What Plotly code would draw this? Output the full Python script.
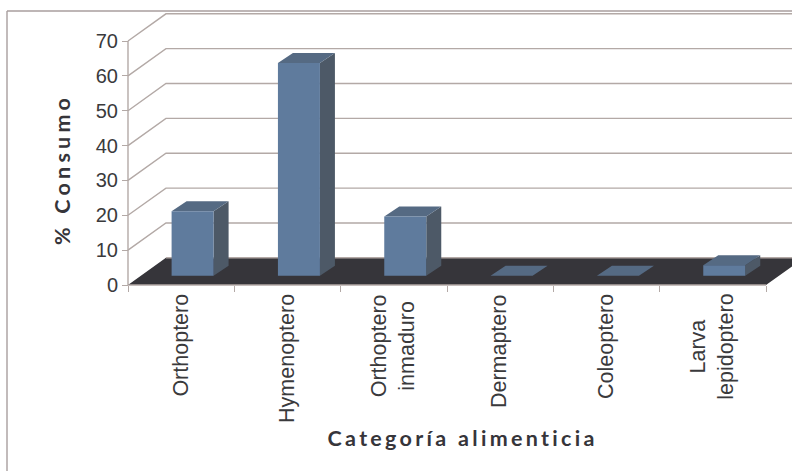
import plotly.graph_objects as go

# Diet composition by food category
categories = ["Orthoptero", "Hymenoptero", "Orthoptero<br>inmaduro", "Dermaptero", "Coleoptero", "Larva<br>lepidoptero"]
consumo = [18.5, 61, 17, 0, 0, 3]
y_ticks = [0, 10, 20, 30, 40, 50, 60, 70]

FRONT = "#5F7B9D"
SIDE = "#4D5967"
TOP = "#556A83"
FLOOR = "#36353A"
GRID = "#B3A9A6"
FRAME = "#A89E9E"
TEXT = "#3A3A3C"

WIDTH, HEIGHT = 792, 471
# Pixel placement of the axis origin and size of one axis unit
ORIGIN_X, ORIGIN_Y = 128, 285
X_UNIT, Y_UNIT = 638 / 6, 244 / 70

# Oblique projection offsets, in axis units
WALL_DX, WALL_DY = 0.357, 7.8
BAR_DX, BAR_DY = 0.141, 2.87
BAR_X0, BAR_W = 0.41, 0.395
BAR_BASE = 2.66
GRID_END = 6.6


def polygons(quads):
    xs, ys = [], []
    for quad in quads:
        xs += [p[0] for p in quad] + [quad[0][0], None]
        ys += [p[1] for p in quad] + [quad[0][1], None]
    return xs, ys


def face(quads, color):
    xs, ys = polygons(quads)
    return go.Scatter(x=xs, y=ys, mode="lines", fill="toself", fillcolor=color,
                      line=dict(width=0, color=color), hoverinfo="skip", showlegend=False)


def rule(xs, ys):
    return go.Scatter(x=xs, y=ys, mode="lines", line=dict(color=GRID, width=1.4),
                      hoverinfo="skip", showlegend=False)


fig = go.Figure()

# Side and back wall gridlines, plus the value axis line
grid_x, grid_y = [], []
for v in y_ticks[1:]:
    grid_x += [0, WALL_DX, GRID_END, None]
    grid_y += [v, v + WALL_DY, v + WALL_DY, None]
fig.add_trace(rule(grid_x, grid_y))
fig.add_trace(rule([0, 0], [0, y_ticks[-1]]))

# Dark floor with its edges
fig.add_trace(face([[(0, 0), (6, 0), (6 + WALL_DX, WALL_DY), (GRID_END, WALL_DY), (WALL_DX, WALL_DY)]], FLOOR))
fig.add_trace(rule([WALL_DX, GRID_END], [WALL_DY, WALL_DY]))
fig.add_trace(rule([0, 6], [0, 0]))

# Bars: side, top and front faces
sides, tops, fronts = [], [], []
for i, v in enumerate(consumo):
    x0 = i + BAR_X0
    x1 = x0 + BAR_W
    b = BAR_BASE
    t = BAR_BASE + v
    if v > 0:
        fronts.append([(x0, b), (x1, b), (x1, t), (x0, t)])
        sides.append([(x1, b), (x1 + BAR_DX, b + BAR_DY), (x1 + BAR_DX, t + BAR_DY), (x1, t)])
    tops.append([(x0, t), (x1, t), (x1 + BAR_DX, t + BAR_DY), (x0 + BAR_DX, t + BAR_DY)])
fig.add_trace(face(sides, SIDE))
fig.add_trace(face(tops, TOP))
fig.add_trace(face(fronts, FRONT))

# Category labels and axis titles
annotations = [
    dict(x=i + 0.49, xref="x", y=0, yref="y", yshift=-7, yanchor="top", xanchor="center",
         text=c, textangle=-90, showarrow=False, align="center",
         font=dict(family="Liberation Sans", size=21.5, color=TEXT))
    for i, c in enumerate(categories)
]
title_font = dict(family="Lato", size=21.5, color=FLOOR, weight="bold")
annotations += [
    dict(x=462 / WIDTH, y=1 - 438 / HEIGHT, xref="paper", yref="paper", text="Categoría alimenticia",
         showarrow=False, font=title_font, xanchor="center", yanchor="middle"),
    dict(x=62 / WIDTH, y=1 - 170 / HEIGHT, xref="paper", yref="paper", text="% Consumo", textangle=-90,
         showarrow=False, font=title_font, xanchor="center", yanchor="middle"),
]

# The axes span the whole page so the receding walls are not clipped;
# ticks sit at the front plane through free-floating axis positions.
tick_style = dict(showline=False, ticks="outside", ticklen=6, tickcolor=GRID, tickwidth=1.4,
                  showgrid=False, zeroline=False, anchor="free")

fig.update_layout(
    width=WIDTH, height=HEIGHT,
    margin=dict(l=0, r=0, t=0, b=0, pad=0),
    paper_bgcolor="white", plot_bgcolor="white",
    showlegend=False,
    annotations=annotations,
    xaxis=dict(range=[-ORIGIN_X / X_UNIT, (WIDTH - ORIGIN_X) / X_UNIT],
               tickvals=list(range(7)), ticktext=[""] * 7,
               position=1 - ORIGIN_Y / HEIGHT, **tick_style),
    yaxis=dict(range=[(ORIGIN_Y - HEIGHT) / Y_UNIT, ORIGIN_Y / Y_UNIT],
               tickvals=y_ticks, tickfont=dict(family="Liberation Sans", size=20, color=TEXT),
               position=ORIGIN_X / WIDTH, **tick_style),
    shapes=[
        dict(type="line", xref="paper", yref="paper", x0=7 / WIDTH, x1=7 / WIDTH, y0=0, y1=1 - 11 / HEIGHT,
             line=dict(color=FRAME, width=1.4)),
        dict(type="line", xref="paper", yref="paper", x0=7 / WIDTH, x1=1, y0=1 - 11 / HEIGHT, y1=1 - 11 / HEIGHT,
             line=dict(color=FRAME, width=1.4)),
    ],
)

# Wide tracking on the two bold axis titles
spacing = """
document.querySelectorAll('.annotation-text').forEach(function (t) {
  if (/Categor/.test(t.textContent)) { t.style.letterSpacing = '3.3px'; }
  if (/Consumo/.test(t.textContent)) { t.style.letterSpacing = '4.2px'; }
});
"""
fig.write_html("out.html", post_script=spacing, config=dict(displayModeBar=False))
